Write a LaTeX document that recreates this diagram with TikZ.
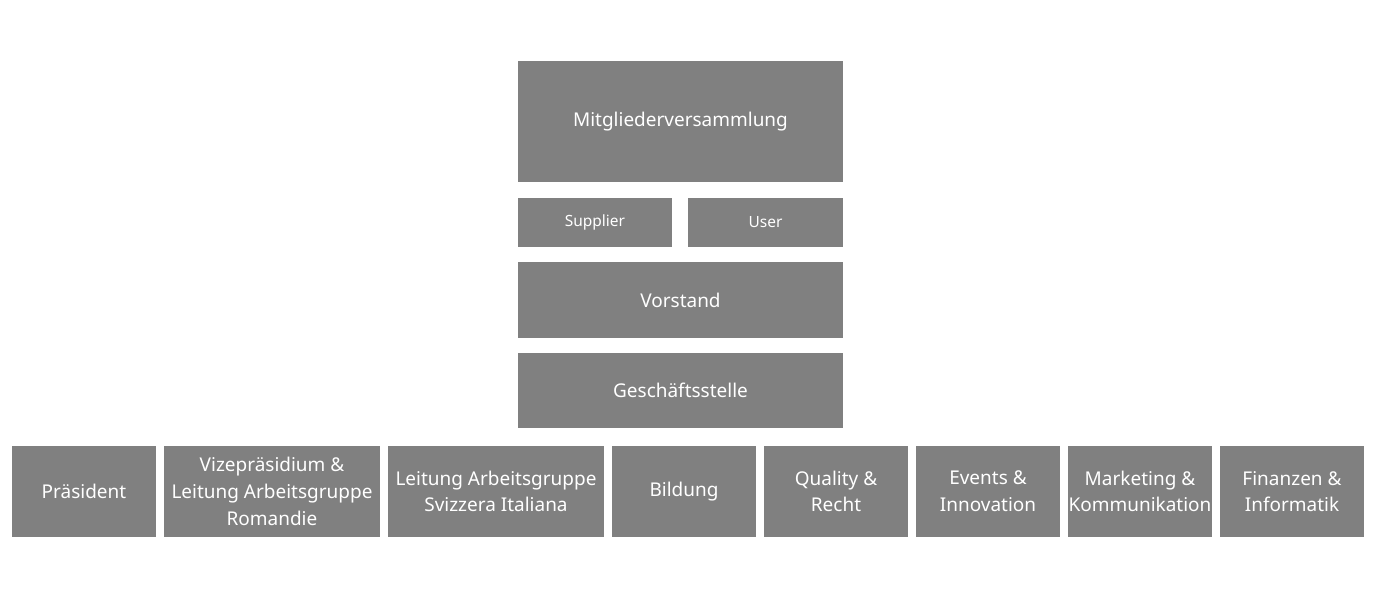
\documentclass[tikz,border=0pt]{standalone}
\usepackage{fontspec}
\setmainfont{Noto Sans}
\definecolor{boxgray}{HTML}{808080}
\tikzset{box/.style={fill=boxgray,text=white,inner sep=0pt,align=center,font=\fontsize{5.4pt}{7.6pt}\selectfont},
small/.style={font=\fontsize{4.4pt}{6pt}\selectfont}}
\newcommand{\bx}[6]{\node[box,#6,minimum width={(#3-#2)*0.01cm},minimum height={(#5-#4)*0.01cm}] (#1) at ({(#2+#3)/200},{-(#4+#5)/200}) {};}
\begin{document}
\begin{tikzpicture}
\useasboundingbox (0,0) rectangle (13.73,-6.10);
\node[box,minimum width=3.25cm,minimum height=1.21cm] (mv) at (6.805,-1.215) {Mitgliederversammlung};
\node[box,small,minimum width=1.54cm,minimum height=0.49cm] (sup) at (5.95,-2.225) {Supplier};
\node[box,small,minimum width=1.55cm,minimum height=0.49cm] (usr) at (7.655,-2.225) {User};
\node[box,minimum width=3.25cm,minimum height=0.76cm] (vor) at (6.805,-3.00) {Vorstand};
\node[box,minimum width=3.25cm,minimum height=0.75cm] (ges) at (6.805,-3.905) {Geschäftsstelle};
\node[box,minimum width=1.44cm,minimum height=0.91cm] (p1) at (0.84,-4.915) {Präsident};
\node[box,minimum width=2.16cm,minimum height=0.91cm] (p2) at (2.72,-4.915) {Vizepräsidium \&\\Leitung Arbeitsgruppe\\Romandie};
\node[box,minimum width=2.16cm,minimum height=0.91cm] (p3) at (4.96,-4.915) {Leitung Arbeitsgruppe\\Svizzera Italiana};
\node[box,minimum width=1.44cm,minimum height=0.91cm] (p4) at (6.84,-4.915) {Bildung};
\node[box,minimum width=1.44cm,minimum height=0.91cm] (p5) at (8.36,-4.915) {Quality \&\\Recht};
\node[box,minimum width=1.44cm,minimum height=0.91cm] (p6) at (9.88,-4.915) {Events \&\\Innovation};
\node[box,minimum width=1.44cm,minimum height=0.91cm] (p7) at (11.40,-4.915) {Marketing \&\\Kommunikation};
\node[box,minimum width=1.44cm,minimum height=0.91cm] (p8) at (12.92,-4.915) {Finanzen \&\\Informatik};
\end{tikzpicture}
\end{document}
